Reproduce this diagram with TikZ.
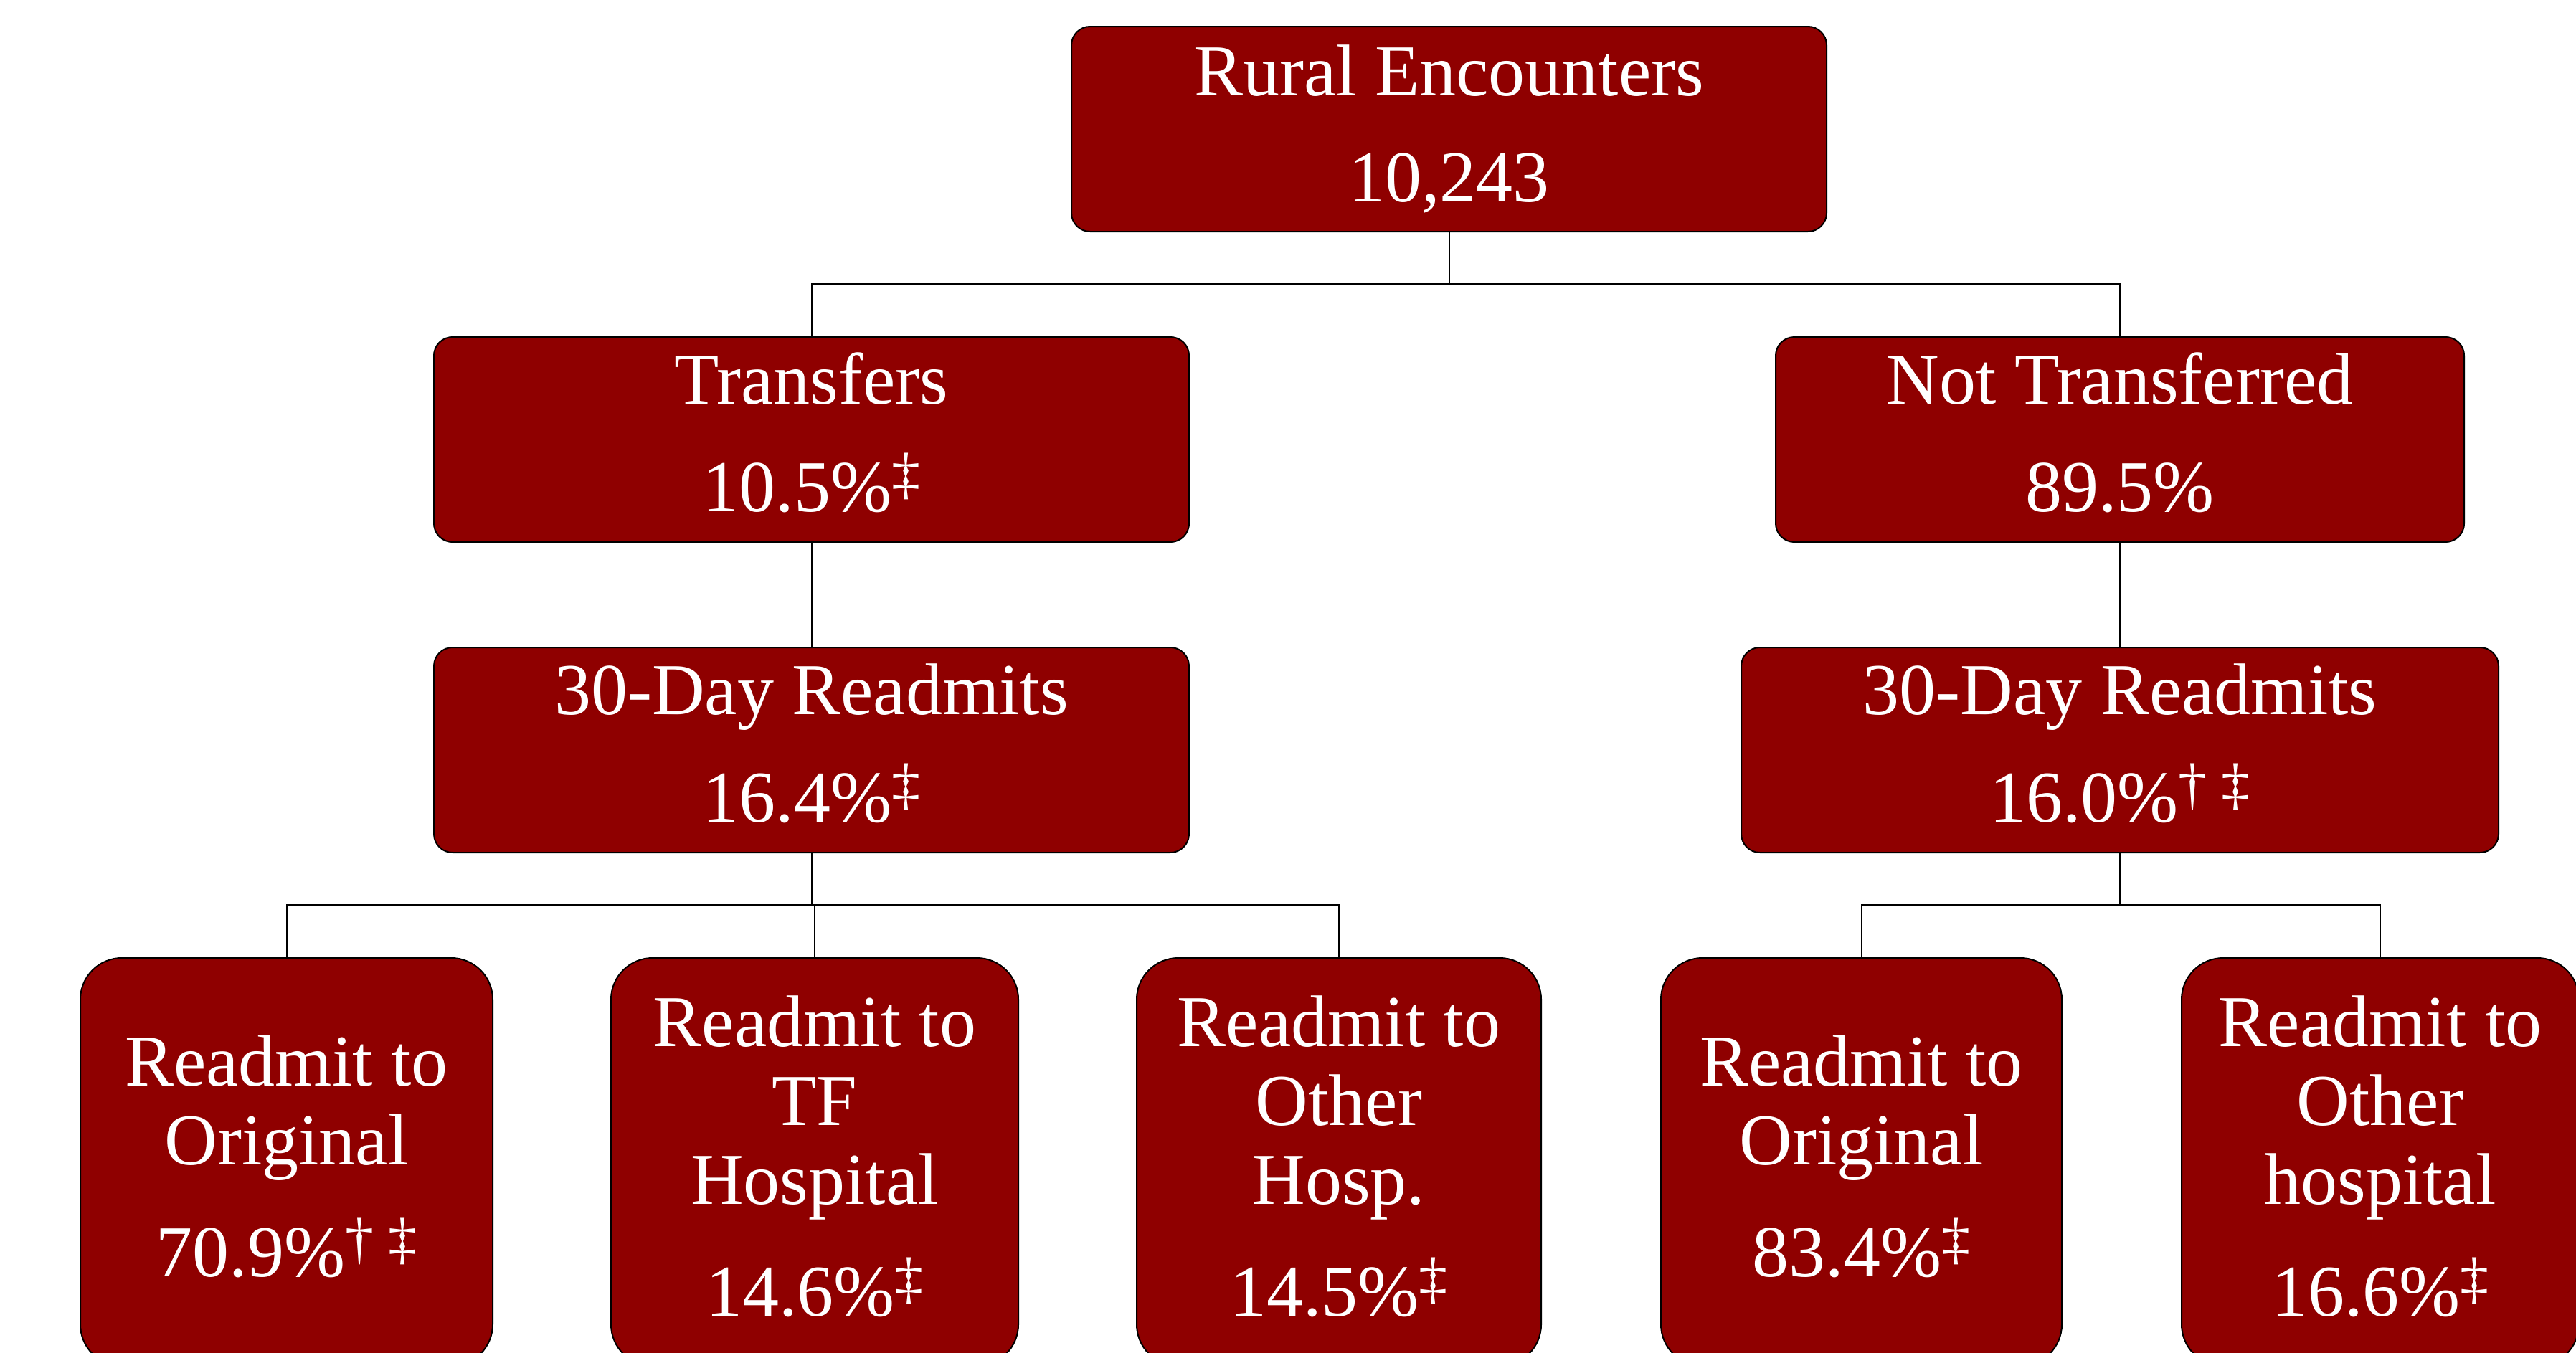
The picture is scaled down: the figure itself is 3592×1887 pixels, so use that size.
\documentclass[tikz,border=0pt]{standalone}
\usepackage{fontspec}
\setmainfont{Liberation Serif}
\definecolor{boxred}{RGB}{143,0,0}
\newcommand\dg[1]{\raisebox{26pt}{\fontsize{80}{80}\selectfont #1}}
\newcommand\dstrut[1]{\rule[-#1]{0pt}{1pt}}
\begin{document}
\begin{tikzpicture}[x=1pt,y=-1pt,
  box/.style={draw=black,line width=2pt,fill=boxred,text=white,align=center,
    inner sep=0pt,rounded corners=26pt,font=\fontsize{102}{110}\selectfont},
  leaf/.style={box,rounded corners=58pt,minimum height=569pt},
  mid/.style={box,minimum height=286pt},
  conn/.style={draw=black,line width=2pt}]
\useasboundingbox (0,0) rectangle (3592,1887);
\node[mid,minimum width=1053pt] (top) at (2020.5,180) {Rural Encounters\\[38pt]10,243};
\node[mid,minimum width=1053pt] (trans) at (1131.5,613) {Transfers\\[40pt]10.5\%\dg{‡}\dstrut{20pt}};
\node[mid,minimum width=960pt] (nottrans) at (2956,613) {Not Transferred\\[40pt]89.5\%\dstrut{20pt}};
\node[mid,minimum width=1053pt] (rL) at (1131.5,1046) {30-Day Readmits\\[40pt]16.4\%\dg{‡}\dstrut{20pt}};
\node[mid,minimum width=1056pt] (rR) at (2956,1046) {30-Day Readmits\\[40pt]16.0\%\dg{†\hspace{20pt}‡}\dstrut{20pt}};
\node[leaf,minimum width=575pt] (b1) at (399.5,1620.5) {Readmit to\\Original\\[46pt]70.9\%\dg{†\hspace{20pt}‡}\dstrut{16pt}};
\node[leaf,minimum width=568pt] (b2) at (1136,1620.5) {Readmit to\\TF\\Hospital\\[46pt]14.6\%\dg{‡}\dstrut{16pt}};
\node[leaf,minimum width=564pt] (b3) at (1867,1620.5) {Readmit to\\Other\\Hosp.\\[46pt]14.5\%\dg{‡}\dstrut{16pt}};
\node[leaf,minimum width=559pt] (b4) at (2595.5,1620.5) {Readmit to\\Original\\[46pt]83.4\%\dg{‡}\dstrut{16pt}};
\node[leaf,minimum width=554pt] (b5) at (3319,1620.5) {Readmit to\\Other\\hospital\\[46pt]16.6\%\dg{‡}\dstrut{16pt}};
\coordinate (j1) at (2020.5,396);
\coordinate (j2) at (1131.5,1262);
\coordinate (j3) at (2956,1262);
\draw[conn] (top.south) -- (j1);
\draw[conn] (trans.north) |- (j1) -| (nottrans.north);
\draw[conn] (trans.south) -- (rL.north);
\draw[conn] (nottrans.south) -- (rR.north);
\draw[conn] (rL.south) -- (j2);
\draw[conn] (b1.north) |- (j2) -| (b3.north);
\draw[conn] (j2) -| (b2.north);
\draw[conn] (rR.south) -- (j3);
\draw[conn] (b4.north) |- (j3) -| (b5.north);
\end{tikzpicture}
\end{document}
